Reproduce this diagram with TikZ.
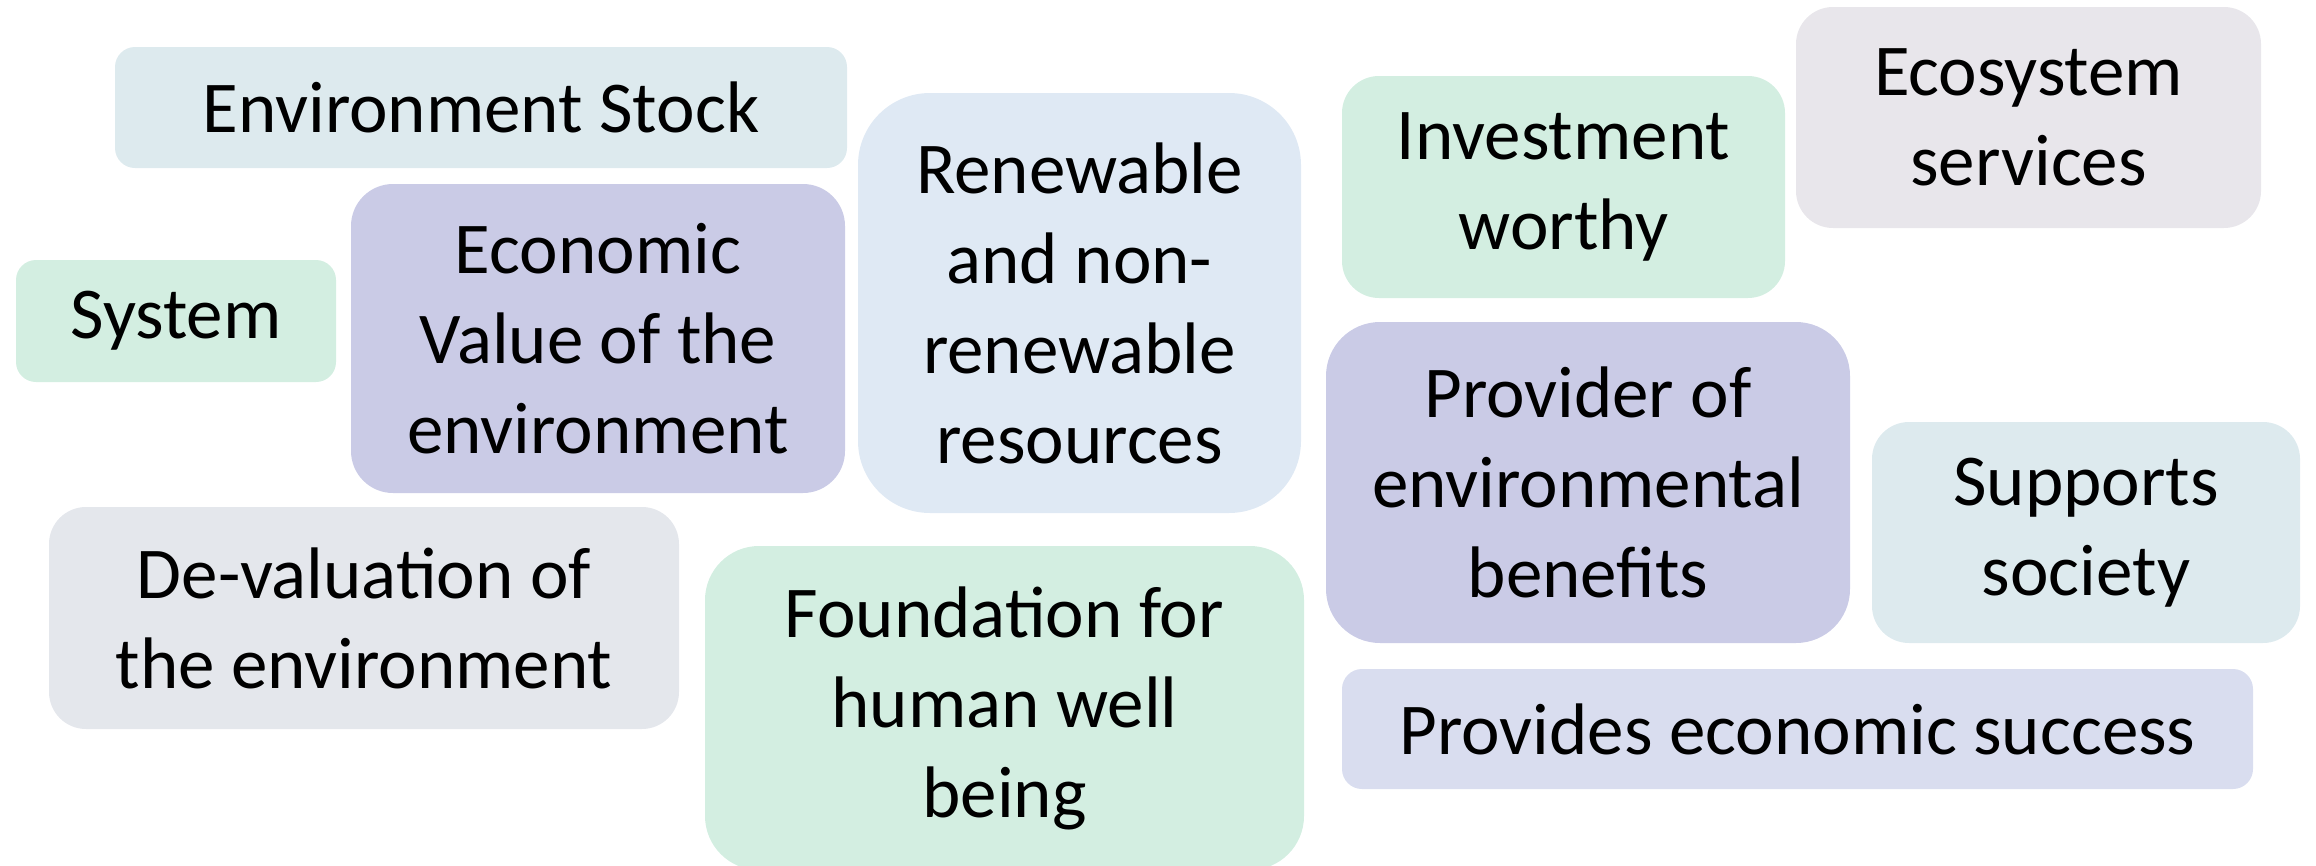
\documentclass[tikz,border=0pt]{standalone}
\usepackage{fontspec}
\setmainfont{Carlito}
\definecolor{cBlueGray}{HTML}{DDEAEE}
\definecolor{cLav}{HTML}{CACBE6}
\definecolor{cGreen}{HTML}{D3EEE1}
\definecolor{cBlue}{HTML}{DFE9F4}
\definecolor{cGray}{HTML}{E8E6EB}
\definecolor{cGray2}{HTML}{E4E7EC}
\definecolor{cLav2}{HTML}{D9DDEF}
\tikzset{
  card/.style={draw=none, inner sep=0pt, align=center, text=black,
    font=\fontsize{73}{90}\selectfont},
}
\begin{document}
\begin{tikzpicture}[x=1pt,y=-1pt]
\useasboundingbox (0,0) rectangle (2316,865);
\node[card, fill=cBlueGray, rounded corners=20pt, minimum width=732pt, minimum height=121pt] (envstock) at (481,107.5) {Environment Stock};
\node[card, fill=cLav, rounded corners=42pt, minimum width=494pt, minimum height=309pt] (econ) at (598,338.5) {Economic\\Value of the\\environment};
\node[card, fill=cGreen, rounded corners=20pt, minimum width=320pt, minimum height=122pt] (system) at (176,321) {System};
\node[card, fill=cBlue, rounded corners=72pt, minimum width=443pt, minimum height=420pt] (renew) at (1079.5,303) {Renewable\\and non-\\renewable\\resources};
\node[card, fill=cGray2, rounded corners=37pt, minimum width=630pt, minimum height=222pt] (devalue) at (364,618) {De-valuation of\\the environment};
\node[card, fill=cGreen, rounded corners=54pt, minimum width=599pt, minimum height=324pt] (found) at (1004.5,708) {Foundation for\\human well\\being};
\node[card, fill=cGreen, rounded corners=37pt, minimum width=443pt, minimum height=222pt] (invest) at (1563.5,187) {Investment\\worthy};
\node[card, fill=cGray, rounded corners=37pt, minimum width=465pt, minimum height=221pt] (ecosys) at (2028.5,117.5) {Ecosystem\\services};
\node[card, fill=cLav, rounded corners=54pt, minimum width=524pt, minimum height=321pt] (provider) at (1588,482.5) {Provider of\\environmental\\benefits};
\node[card, fill=cBlueGray, rounded corners=37pt, minimum width=428pt, minimum height=221pt] (supports) at (2086,532.5) {Supports\\society};
\node[card, fill=cLav2, rounded corners=20pt, minimum width=911pt, minimum height=120pt] (provides) at (1797.5,729) {Provides economic success};
\end{tikzpicture}
\end{document}
